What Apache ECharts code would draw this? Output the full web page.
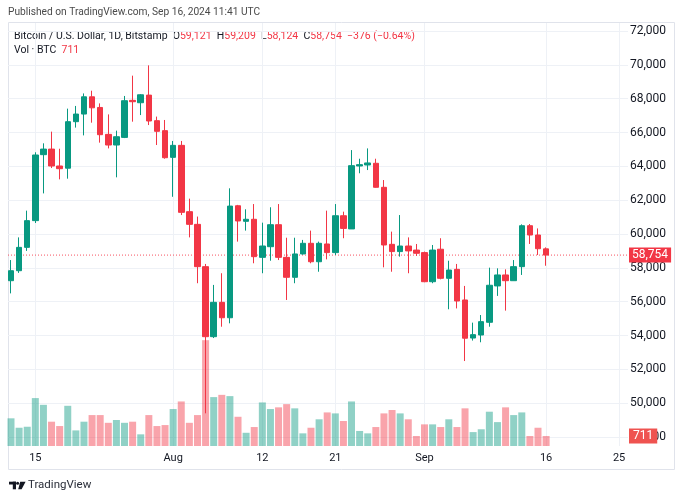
<!DOCTYPE html>
<html><head><meta charset="utf-8">
<script src="https://cdn.jsdelivr.net/npm/echarts@6/dist/echarts.min.js"></script>
<style>html,body{margin:0;padding:0;background:#fff}#c{width:683px;height:500px}</style>
</head><body><div id="c"></div>
<script>
const dates = [
'2024-07-12','2024-07-13','2024-07-14','2024-07-15','2024-07-16','2024-07-17','2024-07-18','2024-07-19','2024-07-20','2024-07-21',
'2024-07-22','2024-07-23','2024-07-24','2024-07-25','2024-07-26','2024-07-27','2024-07-28','2024-07-29','2024-07-30','2024-07-31',
'2024-08-01','2024-08-02','2024-08-03','2024-08-04','2024-08-05','2024-08-06','2024-08-07','2024-08-08','2024-08-09','2024-08-10',
'2024-08-11','2024-08-12','2024-08-13','2024-08-14','2024-08-15','2024-08-16','2024-08-17','2024-08-18','2024-08-19','2024-08-20',
'2024-08-21','2024-08-22','2024-08-23','2024-08-24','2024-08-25','2024-08-26','2024-08-27','2024-08-28','2024-08-29','2024-08-30',
'2024-08-31','2024-09-01','2024-09-02','2024-09-03','2024-09-04','2024-09-05','2024-09-06','2024-09-07','2024-09-08','2024-09-09',
'2024-09-10','2024-09-11','2024-09-12','2024-09-13','2024-09-14','2024-09-15','2024-09-16'];
const opens = [
57240,57830,59210,60790,64690,65020,64020,63890,66640,67090,
68110,67480,65890,65260,65710,67900,67760,68210,66700,66110,
64530,65240,61320,60570,58070,53930,55960,55050,61670,60750,
60870,58620,59250,60550,58620,57440,58820,59450,58360,59410,
58900,61080,60300,64020,64080,64180,62760,59390,58960,59290,
59050,58900,57180,59100,57380,57910,56100,53850,54030,54780,
56930,57580,57240,58070,60490,59940,59121];
const highs = [
58460,59800,61380,64830,65360,66050,65040,67410,67570,68310,
68470,67720,67070,66110,68160,69360,68270,69970,66940,66740,
65500,65500,62090,61030,58230,56990,57680,62700,61720,61460,
61770,60670,61580,61770,59780,59780,59650,60200,59550,61380,
61770,61320,64960,64450,65060,64450,63190,60140,61120,59800,
59410,58960,59350,59750,58420,58230,56930,54760,55210,58010,
57970,57910,58460,60570,60590,60330,59209];
const lows = [
56490,57700,59000,60650,62400,63900,63230,63270,66290,65830,
66580,65400,65060,63350,65670,66640,67030,66440,65260,64450,
62200,61120,59800,57090,49400,53850,54520,54720,59550,60200,
58270,57680,58420,58460,56100,57090,58780,58270,57770,58500,
58760,59750,60300,63590,63780,62740,58030,57770,58660,57680,
58700,57150,57090,57320,55550,55600,52490,53700,53600,54520,
56340,55470,57240,57580,59410,58760,58124];
const closes = [
57830,59210,60790,64670,65020,64020,63860,66640,67090,68110,
67460,65870,65260,65750,67880,67820,68230,66680,66070,64510,
65240,61280,60570,58070,53930,55960,55050,61650,60770,60870,
58660,59290,60550,58620,57440,58820,59450,58360,59450,58900,
61080,60330,64040,64100,64200,62760,59350,58960,59290,59000,
58860,57180,59050,57380,57870,56040,53840,54050,54820,56970,
57580,57240,58070,60490,59940,59130,58754];
const volumes = [
1970,1300,1370,3410,2930,1730,1420,2860,1110,1730,
2200,2200,1650,1850,1650,1730,830,2200,1420,1490,
2630,3170,1650,2200,7530,3480,3640,3550,2080,940,
1350,3100,2630,2750,2980,2680,900,1300,1900,2390,
2320,1780,3170,1070,900,1350,2320,2560,2320,1900,
710,1540,1540,1350,1900,1350,2680,990,1190,2440,
1700,2750,2200,2390,710,1300,711];
const tickDates = ['2024-07-15','2024-08-01','2024-08-12','2024-08-21','2024-09-01','2024-09-16','2024-09-25'];
const tickLabels = ['15','Aug','12','21','Sep','16','25'];
const priceTicks = {min:48000, max:72000, step:2000};

const UP = '#089981', DOWN = '#F23645', GRIDC = '#eef1f6', TXT = '#131722';
const FONT = 'Roboto';
const n = dates.length;
const dayIndex = d => Math.round((Date.parse(d) - Date.parse(dates[0])) / 86400000);
const tickIdx = tickDates.map(dayIndex);
const fmt = v => v.toLocaleString('en-US');
const candleData = dates.map((d, i) => [i, opens[i], closes[i], lows[i], highs[i]]);
const volData = dates.map((d, i) => ({
  value: [i, volumes[i]],
  itemStyle: {color: closes[i] >= opens[i] ? 'rgba(8,153,129,0.45)' : 'rgba(242,54,69,0.45)'}
}));
const last = n - 1;
const ch = closes[last] - closes[last - 1];
const pct = ch / closes[last - 1] * 100;
const chTxt = (ch < 0 ? '\u2212' : '+') + fmt(Math.abs(ch)) + ' (' + (pct < 0 ? '\u2212' : '+') + Math.abs(pct).toFixed(2) + '%)';

const xMin = -0.37, xMax = 76.1;
const chart = echarts.init(document.getElementById('c'));
chart.setOption({
  animation: false,
  backgroundColor: '#fff',
  textStyle: {fontFamily: FONT},
  grid: [
    {left: 8, right: 55, top: 31, bottom: 63},
    {left: 8, right: 55, top: 23, bottom: 54}
  ],
  xAxis: [
    {type: 'value', gridIndex: 0, min: xMin, max: xMax, show: false},
    {type: 'value', gridIndex: 1, min: xMin, max: xMax,
      axisLine: {show: false}, axisTick: {show: false}, splitLine: {show: false},
      axisLabel: {customValues: tickIdx, formatter: v => tickLabels[tickIdx.indexOf(Math.round(v))] || '',
        color: TXT, fontSize: 11, fontFamily: FONT, margin: 7}}
  ],
  yAxis: [
    {type: 'value', gridIndex: 0, position: 'right', min: priceTicks.min, max: priceTicks.max, interval: priceTicks.step,
      axisLine: {show: false}, axisTick: {show: false},
      splitLine: {lineStyle: {color: GRIDC, width: 1}},
      axisLabel: {formatter: v => fmt(v), color: TXT, fontSize: 12, fontFamily: FONT, margin: 2}},
    {type: 'value', gridIndex: 1, min: 0, max: 30100, show: false}
  ],
  series: [
    {type: 'bar', xAxisIndex: 1, yAxisIndex: 1, data: volData, barWidth: 7, z: 2, silent: true,
      markLine: {silent: true, symbol: 'none', animation: false, z: 1,
        lineStyle: {color: GRIDC, type: 'solid', width: 1},
        label: {show: false},
        data: tickIdx.map(v => ({xAxis: v, lineStyle: {color: GRIDC, type: 'solid', width: 1}, label: {show: false}})).concat([
          {yAxis: volumes[last], lineStyle: {color: 'rgba(0,0,0,0)', width: 1},
            label: {show: true, position: 'end', formatter: fmt(volumes[last]), color: '#fff', backgroundColor: '#ef5350',
              padding: [2, 4, 1, 4], fontSize: 12, fontFamily: FONT, distance: 1}}
        ])}},
    {type: 'candlestick', xAxisIndex: 0, yAxisIndex: 0, data: candleData, encode: {x: 0, y: [1, 2, 3, 4]},
      barWidth: 6, z: 4, silent: true,
      itemStyle: {color: UP, color0: DOWN, borderColor: UP, borderColor0: DOWN, borderWidth: 1}},
    {type: 'line', xAxisIndex: 0, yAxisIndex: 0, z: 3, silent: true, showSymbol: false,
      data: [[xMin, closes[last]], [xMax, closes[last]]],
      lineStyle: {color: '#f7525f', type: [1, 2], width: 1},
      endLabel: {show: true, formatter: fmt(closes[last]), color: '#fff', backgroundColor: DOWN,
        padding: [2, 3, 1, 3], fontSize: 12, fontFamily: FONT, distance: 1}}
  ],
  graphic: [
    {type: 'rect', silent: true, shape: {x: 8.5, y: 22.5, width: 666, height: 447},
      style: {fill: 'none', stroke: '#e0e3eb', lineWidth: 1}, z: -1},
    {type: 'text', x: 8, y: 12, silent: true,
      style: {text: 'Published on TradingView.com, Sep 16, 2024 11:41 UTC', fill: '#4a4a4a', fontSize: 10.2, fontFamily: FONT, verticalAlign: 'middle'}},
    {type: 'text', x: 14, y: 36, silent: true,
      style: {
        text: 'Bitcoin / U.S. Dollar, 1D, Bitstamp  O{v|' + fmt(opens[last]) + '}  H{v|' + fmt(highs[last]) + '}  L{v|' + fmt(lows[last]) + '}  C{v|' + fmt(closes[last]) + '}  {v|' + chTxt + '}',
        fill: TXT, fontSize: 10.5, fontFamily: FONT, verticalAlign: 'middle',
        rich: {v: {fill: DOWN, fontSize: 10.5, fontFamily: FONT}}
      }},
    {type: 'text', x: 14, y: 50, silent: true,
      style: {text: 'Vol \u00b7 BTC  {v|' + fmt(volumes[last]) + '}', fill: TXT, fontSize: 10.5, fontFamily: FONT, verticalAlign: 'middle',
        rich: {v: {fill: DOWN, fontSize: 10.5, fontFamily: FONT}}}},
    {type: 'rect', silent: true, shape: {x: 9, y: 481.7, width: 7, height: 2.8}, style: {fill: TXT}},
    {type: 'rect', silent: true, shape: {x: 12.8, y: 481.7, width: 3.2, height: 7.6}, style: {fill: TXT}},
    {type: 'circle', silent: true, shape: {cx: 17.6, cy: 483.2, r: 1.5}, style: {fill: TXT}},
    {type: 'polygon', silent: true, shape: {points: [[20.2, 481.7], [25.6, 481.7], [21.6, 489.3], [18.2, 489.3]]}, style: {fill: TXT}},
    {type: 'text', x: 28, y: 485.5, silent: true,
      style: {text: 'TradingView', fill: '#2a2e39', fontSize: 11.5, fontFamily: FONT, verticalAlign: 'middle'}}
  ]
});
</script></body></html>
